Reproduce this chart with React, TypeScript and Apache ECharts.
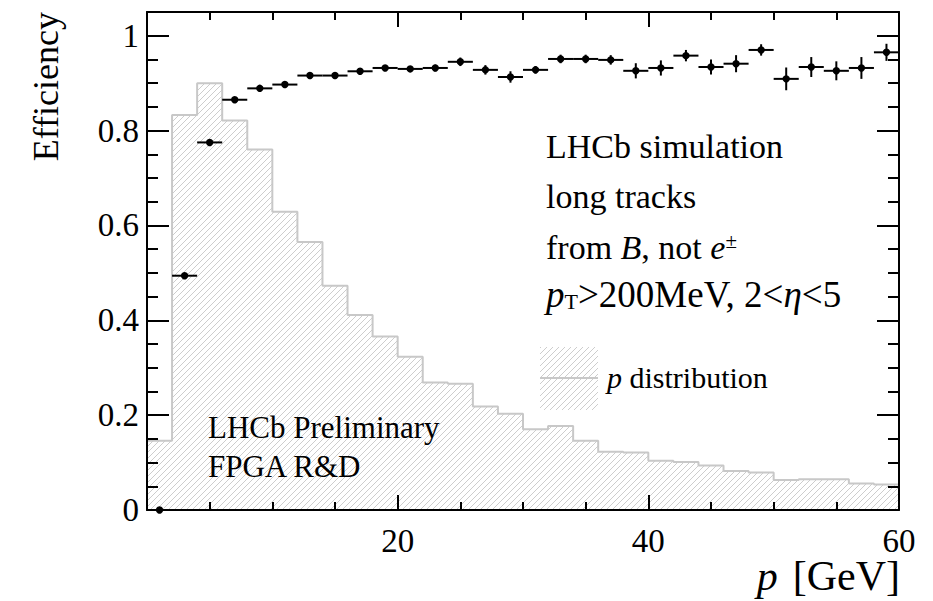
import React, { useEffect, useRef } from "react";
import * as echarts from "echarts";

// ---- data ----
const binCenters = [1, 3, 5, 7, 9, 11, 13, 15, 17, 19, 21, 23, 25, 27, 29, 31, 33, 35, 37, 39, 41, 43, 45, 47, 49, 51, 53, 55, 57, 59];
const efficiency = [0.0, 0.494, 0.775, 0.865, 0.889, 0.897, 0.916, 0.916, 0.925, 0.932, 0.930, 0.932, 0.945, 0.928, 0.913, 0.928, 0.951, 0.951, 0.949, 0.926, 0.932, 0.958, 0.934, 0.941, 0.970, 0.909, 0.934, 0.926, 0.932, 0.965];
const efficiencyErr = [0.002, 0.006, 0.005, 0.004, 0.004, 0.004, 0.005, 0.005, 0.005, 0.006, 0.006, 0.007, 0.009, 0.010, 0.012, 0.008, 0.009, 0.009, 0.010, 0.016, 0.016, 0.012, 0.016, 0.018, 0.012, 0.024, 0.021, 0.020, 0.023, 0.018];
const binLowEdges = [0, 2, 4, 6, 8, 10, 12, 14, 16, 18, 20, 22, 24, 26, 28, 30, 32, 34, 36, 38, 40, 42, 44, 46, 48, 50, 52, 54, 56, 58];
const binUpperEnd = 60;
const pDistribution = [0.146, 0.833, 0.900, 0.821, 0.760, 0.629, 0.565, 0.473, 0.411, 0.366, 0.323, 0.269, 0.266, 0.218, 0.203, 0.170, 0.177, 0.146, 0.123, 0.121, 0.104, 0.101, 0.094, 0.082, 0.079, 0.063, 0.065, 0.065, 0.056, 0.054];

const FONT = "'Liberation Serif', 'Times New Roman', Times, serif";
const HIST_GREY = "#c8c8c8";
const X_MIN = 0, X_MAX = 60, Y_MIN = 0, Y_MAX = 1.05;

function makeHatch() {
  const c = document.createElement("canvas");
  c.width = 6;
  c.height = 6;
  const ctx = c.getContext("2d")!;
  ctx.strokeStyle = "#cdcdcd";
  ctx.lineWidth = 1;
  ctx.beginPath();
  ctx.moveTo(0, 6);
  ctx.lineTo(6, 0);
  ctx.moveTo(-1, 1);
  ctx.lineTo(1, -1);
  ctx.moveTo(5, 7);
  ctx.lineTo(7, 5);
  ctx.stroke();
  return { image: c, repeat: "repeat", imageWidth: 6, imageHeight: 6 } as any;
}

export default function App() {
  const ref = useRef<HTMLDivElement>(null);

  useEffect(() => {
    if (!ref.current) return;
    const chart = echarts.init(ref.current, null, { renderer: "svg" });
    const hatch = makeHatch();

    const histData: number[][] = binLowEdges.map((e, i) => [e, pDistribution[i]]);
    histData.push([binUpperEnd, pDistribution[pDistribution.length - 1]]);
    const effData = binCenters.map((x, i) => [x, efficiency[i], efficiencyErr[i]]);

    const xMajor = (pos: "bottom" | "top", labels: boolean) => ({
      type: "value",
      min: X_MIN,
      max: X_MAX,
      interval: 20,
      position: pos,
      z: 10,
      axisLine: { show: true, onZero: false, lineStyle: { color: "#000", width: 2 } },
      axisTick: { show: true, inside: true, length: 15, lineStyle: { color: "#000", width: 2 } },
      axisLabel: {
        show: labels,
        showMinLabel: false,
        fontFamily: FONT,
        fontSize: 33,
        color: "#000",
        margin: 14,
      },
      splitLine: { show: false },
    });
    const xMinor = (pos: "bottom" | "top") => ({
      type: "value",
      min: X_MIN,
      max: X_MAX,
      interval: 5,
      position: pos,
      z: 10,
      axisLine: { show: false, onZero: false },
      axisTick: { show: true, inside: true, length: 8, lineStyle: { color: "#000", width: 2 } },
      axisLabel: { show: false },
      splitLine: { show: false },
    });

    const yMajor = (pos: "left" | "right", labels: boolean) => ({
      type: "value",
      min: Y_MIN,
      max: Y_MAX,
      interval: 0.2,
      position: pos,
      z: 10,
      axisLine: { show: true, onZero: false, lineStyle: { color: "#000", width: 2 } },
      axisTick: { show: true, inside: true, length: 22, lineStyle: { color: "#000", width: 2 } },
      axisLabel: {
        show: labels,
        showMaxLabel: false,
        fontFamily: FONT,
        fontSize: 33,
        color: "#000",
        margin: 8,
      },
      splitLine: { show: false },
    });
    const yMinor = (pos: "left" | "right") => ({
      type: "value",
      min: Y_MIN,
      max: Y_MAX,
      interval: 0.05,
      position: pos,
      z: 10,
      axisLine: { show: false, onZero: false },
      axisTick: { show: true, inside: true, length: 11, lineStyle: { color: "#000", width: 2 } },
      axisLabel: { show: false },
      splitLine: { show: false },
    });

    const lineX = 546;
    const fs = 34;
    const rich = {
      i: { fontStyle: "italic", fontSize: fs, fontFamily: FONT },
      sup: { fontSize: 21, fontFamily: FONT, verticalAlign: "top" },
      i37: { fontStyle: "italic", fontSize: 37, fontFamily: FONT },
      sub: { fontSize: 22, fontFamily: FONT, verticalAlign: "bottom" },
    };
    const txt = (text: string, x: number, y: number, size: number, extra: any = {}) => ({
      type: "text",
      x,
      y,
      z: 10,
      style: {
        text,
        fontSize: size,
        fontFamily: FONT,
        fill: "#000",
        align: "left",
        verticalAlign: "middle",
        rich,
        ...extra,
      },
    });

    chart.setOption({
      animation: false,
      grid: { left: 147, right: 34, top: 12, bottom: 91, containLabel: false },
      xAxis: [xMajor("bottom", true), xMinor("bottom"), xMajor("top", false), xMinor("top")],
      yAxis: [yMajor("left", true), yMinor("left"), yMajor("right", false), yMinor("right")],
      series: [
        {
          name: "p distribution",
          type: "line",
          xAxisIndex: 0,
          yAxisIndex: 0,
          step: "end",
          symbol: "none",
          data: histData,
          lineStyle: { color: HIST_GREY, width: 2 },
          areaStyle: { color: hatch, opacity: 1 },
          z: 1,
        },
        {
          name: "Efficiency",
          type: "custom",
          xAxisIndex: 0,
          yAxisIndex: 0,
          encode: { x: 0, y: 1 },
          data: effData,
          z: 5,
          renderItem: (_params: any, api: any) => {
            const x = api.value(0);
            const y = api.value(1);
            const e = api.value(2);
            const l = api.coord([x - 1, y]);
            const r = api.coord([x + 1, y]);
            const t = api.coord([x, y + e]);
            const b = api.coord([x, y - e]);
            const c = api.coord([x, y]);
            return {
              type: "group",
              children: [
                { type: "line", shape: { x1: l[0], y1: l[1], x2: r[0], y2: r[1] }, style: { stroke: "#000", lineWidth: 2 } },
                { type: "line", shape: { x1: t[0], y1: t[1], x2: b[0], y2: b[1] }, style: { stroke: "#000", lineWidth: 2 } },
                { type: "circle", shape: { cx: c[0], cy: c[1], r: 3.7 }, style: { fill: "#000" } },
              ],
            };
          },
        },
      ],
      graphic: [
        {
          type: "text",
          x: 46,
          y: 12,
          rotation: Math.PI / 2,
          style: { text: "Efficiency", fontSize: 36, fontFamily: FONT, fill: "#000", align: "right", verticalAlign: "middle" },
        },
        {
          type: "text",
          x: 900,
          y: 576,
          style: {
            text: "{i|p}{sp| }[GeV]",
            fontSize: 42,
            fontFamily: FONT,
            fill: "#000",
            align: "right",
            verticalAlign: "middle",
            rich: {
              i: { fontStyle: "italic", fontSize: 42, fontFamily: FONT },
              sp: { width: 15, fontSize: 42, fontFamily: FONT },
            },
          },
        },
        txt("LHCb simulation", lineX, 146, fs),
        txt("long tracks", lineX, 196, fs),
        txt("from {i|B}, not {i|e}{sup|±}", lineX, 247, fs),
        txt("{i37|p}{sub|T}>200MeV, 2<{i37|η}<5", lineX, 294, 37),
        { type: "rect", shape: { x: 540, y: 347, width: 58, height: 63 }, style: { fill: hatch }, z: 10 },
        { type: "line", shape: { x1: 540, y1: 378, x2: 598, y2: 378 }, style: { stroke: HIST_GREY, lineWidth: 2 }, z: 11 },
        txt("{i30|p} distribution", 607, 377, 30, {
          rich: { i30: { fontStyle: "italic", fontSize: 30, fontFamily: FONT } },
        }),
        txt("LHCb Preliminary", 208, 427, 31),
        txt("FPGA R&D", 208, 466, 31),
      ],
    });

    return () => chart.dispose();
  }, []);

  return <div ref={ref} style={{ position: "absolute", left: 0, top: 0, width: 933, height: 601 }} />;
}
